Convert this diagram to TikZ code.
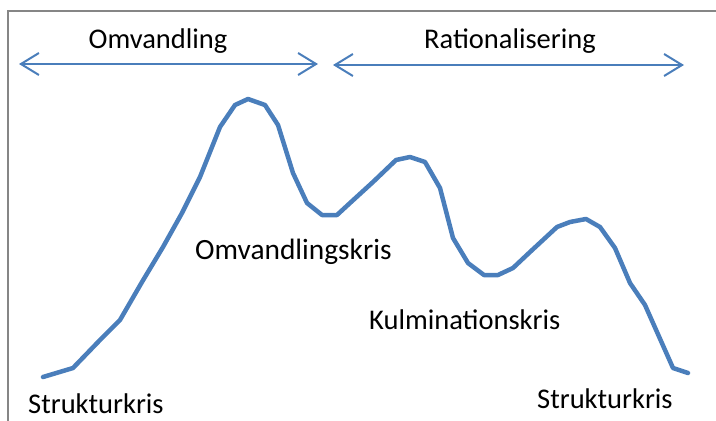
\documentclass[tikz,border=0pt]{standalone}
\usepackage{fontspec}
\setmainfont{Carlito}
\usetikzlibrary{arrows.meta}
\definecolor{curveblue}{RGB}{74,126,187}
\definecolor{framegray}{RGB}{134,134,134}
\tikzset{
  lbl/.style={inner sep=0pt, text=black, font=\fontsize{28.5pt}{34pt}\selectfont},
  biglbl/.style={inner sep=0pt, text=black, font=\fontsize{29.4pt}{35pt}\selectfont},
  span/.style={draw=curveblue, line width=2pt, {Straight Barb[length=18pt,width=22pt,line width=2pt]}-{Straight Barb[length=18pt,width=22pt,line width=2pt]}},
  crisis/.style={draw=curveblue, line width=4.5pt, line join=round, line cap=round},
  frameline/.style={draw=framegray, line width=2pt}
}
\begin{document}
\begin{tikzpicture}[x=1pt,y=-1pt]
\useasboundingbox (0,0) rectangle (716,421);
% frame
\coordinate (fbl) at (8,421);
\coordinate (ftl) at (8,10.5);
\coordinate (ftr) at (716,10.5);
\draw[frameline] (fbl) -- (ftl) -- (ftr);
% phase labels and arrows
\node[lbl, anchor=base] (omv) at (158,48) {Omvandling};
\node[lbl, anchor=base] (rat) at (510,48) {Rationalisering};
\coordinate (a1l) at (19,64);
\coordinate (a1r) at (318,64);
\coordinate (a2l) at (333,65);
\coordinate (a2r) at (684,65);
\draw[span] (a1l) -- (a1r);
\draw[span] (a2l) -- (a2r);
% curve
\draw[crisis] (43,377) -- (73,368) -- (100,340) -- (120,320) -- (142,282) -- (163,247)
  -- (182,213) -- (200,177) -- (220,127) -- (235,105) -- (248,99) -- (265,105)
  -- (278,125) -- (293,173) -- (307,203) -- (322,215) -- (337,215) -- (350,203)
  -- (373,182) -- (396,160) -- (410,157) -- (425,162) -- (440,188) -- (453,238)
  -- (468,263) -- (484,275) -- (498,275) -- (513,268) -- (530,252) -- (557,227)
  -- (570,222) -- (586,219) -- (600,227) -- (615,248) -- (630,283) -- (645,305)
  -- (673,368) -- (688,373);
% crisis labels
\node[lbl, anchor=base west] (sk1) at (28,413) {Strukturkris};
\node[biglbl, anchor=base west] (ok) at (195,259) {Omvandlingskris};
\node[lbl, anchor=base west] (kk) at (369,329) {Kulminationskris};
\node[lbl, anchor=base west] (sk2) at (537,408) {Strukturkris};
\end{tikzpicture}
\end{document}
